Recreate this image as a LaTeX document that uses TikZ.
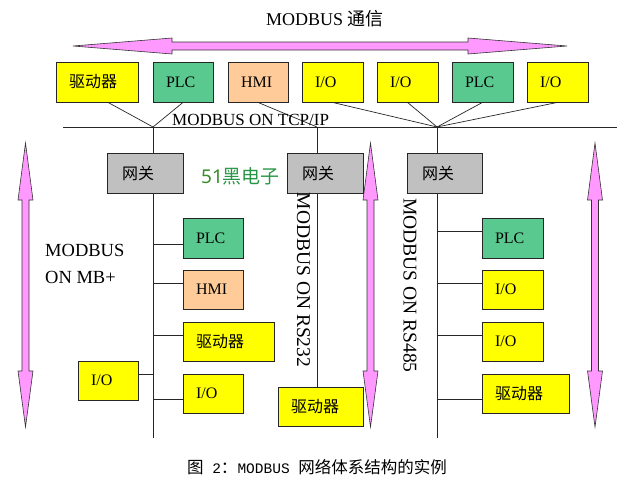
\documentclass[tikz,border=0pt]{standalone}
\usepackage{fontspec}
\setmainfont{Liberation Serif}
\newfontfamily\cjk{Noto Sans CJK SC}
\newfontfamily\cmono{Liberation Mono}
\newfontfamily\nsans{Noto Sans}
\usetikzlibrary{backgrounds}
\definecolor{boxyellow}{HTML}{FFFF00}
\definecolor{boxgreen}{HTML}{5AC98F}
\definecolor{boxpeach}{HTML}{FFCC99}
\definecolor{boxgray}{HTML}{C0C0C0}
\definecolor{arrowpink}{HTML}{FF99FF}
\definecolor{wmgreenA}{RGB}{58,140,40}
\definecolor{wmgreenB}{RGB}{40,150,70}
\begin{document}
\begin{tikzpicture}[x=1pt,y=-1pt,
  bx/.style={draw=black!85, line width=0.8pt, minimum height=40pt, inner xsep=13pt, inner ysep=0pt,
    align=left, font=\fontsize{16}{19}\selectfont},
  ybx/.style={bx, fill=boxyellow},
  gbx/.style={bx, fill=boxgreen},
  pbx/.style={bx, fill=boxpeach},
  gwbx/.style={bx, fill=boxgray, inner xsep=15pt},
  wire/.style={draw=black!85, line width=0.7pt},
  bigarrow/.style={draw=black!80, line width=0.6pt, fill=arrowpink, line join=miter},
  cjkt/.style={font=\cjk\fontsize{16}{19}\selectfont}
]
\useasboundingbox (0,0) rectangle (620,490);

% title
\node (title) at (325,19) {\fontsize{18}{21}\selectfont MODBUS {\cjk 通信}};

% big horizontal double arrow
\draw[bigarrow] (73,46) -- (172,38) -- (172,42) -- (468,42) -- (468,38) -- (567,46)
  -- (468,54) -- (468,50) -- (172,50) -- (172,54) -- cycle;

% vertical double arrows
\foreach \ax/\nm in {25.5/arrL, 370.5/arrM, 595/arrR}{
  \draw[bigarrow] (\ax,143) -- (\ax+7.5,200) -- (\ax+3.5,200) -- (\ax+3.5,371) -- (\ax+7.5,371)
    -- (\ax,427) -- (\ax-7.5,371) -- (\ax-3.5,371) -- (\ax-3.5,200) -- (\ax-7.5,200) -- cycle;
}

% bus and hub coordinates
\coordinate (busL) at (63,127);
\coordinate (busR) at (617,127);
\coordinate (hubL) at (153,127);
\coordinate (hubM) at (317,127);
\coordinate (hubR) at (437,127);
\coordinate (endL) at (153,438);
\coordinate (endR) at (437,438);

% top devices
\node[ybx, text width=56pt] (t1) at (97,82) {\cjk 驱动器};
\node[gbx, text width=34pt] (t2) at (183,82) {PLC};
\node[pbx, text width=34pt] (t3) at (258,82) {HMI};
\node[ybx, text width=35pt] (t4) at (332.5,82) {I/O};
\node[ybx, text width=35pt] (t5) at (407.5,82) {I/O};
\node[gbx, text width=35pt] (t6) at (482.5,82) {PLC};
\node[ybx, text width=35pt] (t7) at (557.5,82) {I/O};

% gateways
\node[gwbx, text width=46pt] (g1) at (145,173) {\cjk 网关};
\node[gwbx, text width=46pt] (g2) at (325,173) {\cjk 网关};
\node[gwbx, text width=45pt] (g3) at (444.5,173) {\cjk 网关};

% left branch devices
\node[gbx, text width=34pt] (l1) at (213,238) {PLC};
\node[pbx, text width=34pt, minimum height=39pt] (l2) at (213,289.5) {HMI};
\node[ybx, text width=65pt, minimum height=39pt] (l3) at (228.5,341.5) {\cjk 驱动器};
\node[ybx, text width=34pt, minimum height=39pt] (l4) at (213,393.5) {I/O};
\node[ybx, text width=34pt, minimum height=39pt] (l5) at (108,380.5) {I/O};

% middle branch device
\node[ybx, text width=59pt, minimum height=39pt] (m1) at (320.5,406.5) {\cjk 驱动器};

% right branch devices
\node[gbx, text width=35pt] (r1) at (512.5,238) {PLC};
\node[ybx, text width=35pt, minimum height=39pt] (r2) at (512.5,289.5) {I/O};
\node[ybx, text width=35pt, minimum height=39pt] (r3) at (512.5,341.5) {I/O};
\node[ybx, text width=61pt, minimum height=39pt] (r4) at (525.5,393.5) {\cjk 驱动器};

% connection points on the branch lines
\coordinate (cl1) at (153,244);
\coordinate (cl2) at (153,283);
\coordinate (cl3) at (153,335);
\coordinate (cl4) at (153,399);
\coordinate (cl5) at (153,374);
\coordinate (cr1) at (437,231);
\coordinate (cr2) at (437,283);
\coordinate (cr3) at (437,335);
\coordinate (cr4) at (437,399);

\begin{scope}[on background layer]
  \draw[wire] (busL) -- (busR);
  \draw[wire] (hubL) -- (endL);
  \draw[wire] (hubM) -- (hubM |- m1.north);
  \draw[wire] (hubR) -- (endR);
  \draw[wire] ([xshift=11pt]t1.south) -- (hubL);
  \draw[wire] (t2.south) -- (hubL);
  \draw[wire] (t3.south) -- (hubM);
  \foreach \t in {t4,t5,t6,t7} \draw[wire] (\t.south) -- (hubR);
  \draw[wire] (cl1) -- (cl1 -| l1.west);
  \draw[wire] (cl2) -- (cl2 -| l2.west);
  \draw[wire] (cl3) -- (cl3 -| l3.west);
  \draw[wire] (cl4) -- (cl4 -| l4.west);
  \draw[wire] (cl5) -- (cl5 -| l5.east);
  \draw[wire] (cr1) -- (cr1 -| r1.west);
  \draw[wire] (cr2) -- (cr2 -| r2.west);
  \draw[wire] (cr3) -- (cr3 -| r3.west);
  \draw[wire] (cr4) -- (cr4 -| r4.west);
\end{scope}

% labels
\node[anchor=base west, inner sep=0pt, font=\fontsize{17}{20}\selectfont] (tcp) at (172,125) {MODBUS ON TCP/IP};
\node[anchor=west, inner sep=0pt, align=left, font=\fontsize{18.5}{27}\selectfont] (mbp) at (45,263.5) {MODBUS\\ON MB+};
\node[rotate=-90, inner sep=0pt, font=\fontsize{19.5}{22}\selectfont] (rs232) at (303.5,280) {MODBUS ON RS232};
\node[rotate=-90, inner sep=0pt, font=\fontsize{19.5}{22}\selectfont] (rs485) at (410,285.5) {MODBUS ON RS485};
\node[inner sep=0pt, font=\fontsize{19}{22}\selectfont] (wm) at (240.5,176)
  {{\nsans\bfseries\color{wmgreenA}51}{\cjk\color{wmgreenB}黑电子}};

% caption
\node[inner sep=0pt] (cap) at (317,467)
  {{\cjk\fontsize{16.5}{19}\selectfont 图}{\cmono\fontsize{14.5}{17}\selectfont\ 2}{\cjk\fontsize{16.5}{19}\selectfont ：}{\cmono\fontsize{14.5}{17}\selectfont MODBUS }{\cjk\fontsize{16.5}{19}\selectfont 网络体系结构的实例}};
\end{tikzpicture}
\end{document}
